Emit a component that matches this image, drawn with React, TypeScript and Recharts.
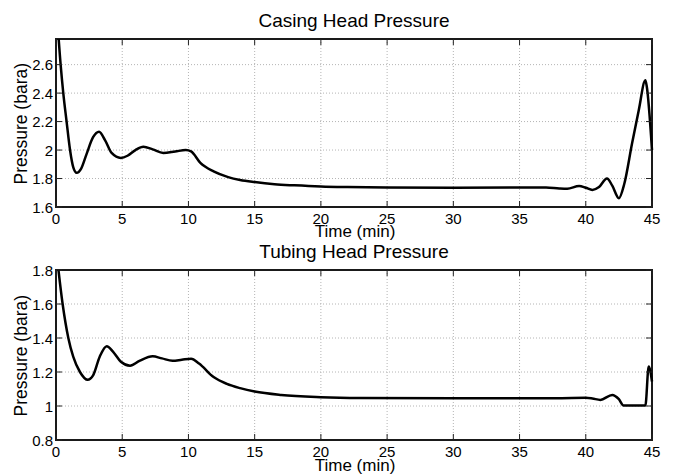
import React from "react";
import {
  LineChart,
  Line,
  XAxis,
  YAxis,
  CartesianGrid,
  ReferenceArea,
} from "recharts";

// Casing head pressure
const casingTime = [
  0, 0.35, 0.55, 0.8, 1.06, 1.3, 1.56, 1.9, 2.3, 2.8, 3.25, 3.7, 4.2, 4.9, 5.4,
  6.0, 6.6, 7.3, 8.1, 9.0, 9.8, 10.2, 10.9, 11.9, 13.0, 13.9, 15, 16.5, 18, 20,
  22, 25, 30, 35, 37, 38, 38.6, 39.5, 40.0, 40.5, 41.0, 41.6, 42.0, 42.5, 42.9,
  43.5, 44.0, 44.5, 44.6, 45,
];
const casingPressure = [
  3.05, 2.6, 2.4, 2.2, 2.0, 1.88, 1.84, 1.87, 1.97, 2.09, 2.128, 2.07, 1.98,
  1.945, 1.96, 2.0, 2.023, 2.005, 1.98, 1.99, 2.0, 1.99, 1.91, 1.85, 1.81, 1.79,
  1.775, 1.76, 1.752, 1.744, 1.74, 1.737, 1.736, 1.737, 1.737, 1.73, 1.728,
  1.747, 1.735, 1.72, 1.74, 1.8, 1.75, 1.662, 1.76, 2.05, 2.28, 2.49, 2.45, 2.0,
];

// Tubing head pressure
const tubingTime = [
  0, 0.5, 0.93, 1.3, 1.81, 2.39, 2.8, 3.3, 3.83, 4.3, 4.9, 5.59, 6.3, 7.3, 8.0,
  8.8, 9.5, 10.2, 10.8, 11.9, 12.9, 13.9, 15, 17, 20, 23, 30, 38, 40, 40.5,
  41.1, 42.0, 42.5, 42.85, 44.5, 44.75, 45,
];
const tubingPressure = [
  1.93, 1.6, 1.4, 1.29, 1.2, 1.154, 1.18, 1.29, 1.352, 1.32, 1.26, 1.237, 1.265,
  1.292, 1.28, 1.266, 1.272, 1.278, 1.25, 1.17, 1.13, 1.105, 1.085, 1.065,
  1.052, 1.047, 1.045, 1.046, 1.048, 1.044, 1.036, 1.065, 1.04, 1.003, 1.003,
  1.233, 1.144,
];

const timeTicks = [0, 5, 10, 15, 20, 25, 30, 35, 40, 45];
const casingTicks = [1.6, 1.8, 2, 2.2, 2.4, 2.6];
const tubingTicks = [0.8, 1, 1.2, 1.4, 1.6, 1.8];

const casingData = casingTime.map((t, i) => ({ t, p: casingPressure[i] }));
const tubingData = tubingTime.map((t, i) => ({ t, p: tubingPressure[i] }));

const FONT = '"Liberation Sans", Arial, Helvetica, sans-serif';
const PLOT_W = 596;

// MATLAB-style inward ticks on both sides of the box
const makeXTick = (plotH: number) => (props: any) => {
  const { x, y, payload } = props;
  return (
    <g>
      <line x1={x} x2={x} y1={y} y2={y - 6} stroke="#222" />
      <line x1={x} x2={x} y1={y - plotH} y2={y - plotH + 6} stroke="#222" />
      <text x={x} y={y + 17} textAnchor="middle" fontSize={15} fontFamily={FONT} fill="#000">
        {payload.value}
      </text>
    </g>
  );
};

const yTick = (props: any) => {
  const { x, y, payload } = props;
  return (
    <g>
      <line x1={x} x2={x + 6} y1={y} y2={y} stroke="#222" />
      <line x1={x + PLOT_W - 6} x2={x + PLOT_W} y1={y} y2={y} stroke="#222" />
      <text x={x - 3} y={y + 5.5} textAnchor="end" fontSize={15} fontFamily={FONT} fill="#000">
        {String(payload.value)}
      </text>
    </g>
  );
};

const textStyle = (left: number, top: number, size: number): React.CSSProperties => ({
  position: "absolute",
  left,
  top,
  width: 300,
  marginLeft: -150,
  textAlign: "center",
  fontFamily: FONT,
  fontSize: size,
  lineHeight: 1,
  color: "#000",
  whiteSpace: "nowrap",
});

const yLabelStyle = (cy: number): React.CSSProperties => ({
  ...textStyle(22.2, cy - 8.75, 17.5),
  transform: "rotate(-90deg)",
});

interface PanelProps {
  data: { t: number; p: number }[];
  top: number;
  height: number;
  margin: { top: number; right: number; bottom: number; left: number };
  yDomain: [number, number];
  yTicks: number[];
}

const X_AXIS_H = 25;

const Panel: React.FC<PanelProps> = ({ data, top, height, margin, yDomain, yTicks }) => {
  const plotH = height - margin.top - margin.bottom - X_AXIS_H;
  return (
    <div style={{ position: "absolute", left: 0, top }}>
      <LineChart width={674} height={height} data={data} margin={margin}>
        <CartesianGrid stroke="#b4b4b4" strokeDasharray="1 2" />
        <XAxis
          dataKey="t"
          type="number"
          domain={[0, 45]}
          ticks={timeTicks}
          height={X_AXIS_H}
          axisLine={false}
          tickLine={false}
          tickSize={0}
          tickMargin={0}
          interval={0}
          tick={makeXTick(plotH)}
        />
        <YAxis
          type="number"
          domain={yDomain}
          ticks={yTicks}
          width={56}
          allowDataOverflow
          axisLine={false}
          tickLine={false}
          tickSize={0}
          tickMargin={0}
          interval={0}
          tick={yTick}
        />
        <Line
          dataKey="p"
          type="monotone"
          stroke="#000"
          strokeWidth={2.5}
          dot={false}
          isAnimationActive={false}
        />
        <ReferenceArea
          x1={0}
          x2={45}
          y1={yDomain[0]}
          y2={yDomain[1]}
          fill="none"
          stroke="#1a1a1a"
          strokeWidth={2}
        />
      </LineChart>
    </div>
  );
};

export default function App() {
  return (
    <div
      style={{
        position: "absolute",
        left: 0,
        top: 0,
        width: 674,
        height: 475,
        background: "#fff",
        overflow: "hidden",
      }}
    >
      <Panel
        data={casingData}
        top={0}
        height={240}
        margin={{ top: 39, right: 22, bottom: 8, left: 0 }}
        yDomain={[1.6, 2.78]}
        yTicks={casingTicks}
      />
      <Panel
        data={tubingData}
        top={240}
        height={235}
        margin={{ top: 30, right: 22, bottom: 10, left: 0 }}
        yDomain={[0.8, 1.8]}
        yTicks={tubingTicks}
      />
      <div style={textStyle(354, 10.6, 19)}>Casing Head Pressure</div>
      <div style={textStyle(355, 223, 17)}>Time (min)</div>
      <div style={yLabelStyle(123.3)}>Pressure (bara)</div>
      <div style={textStyle(354, 242.2, 19)}>Tubing Head Pressure</div>
      <div style={textStyle(355, 457, 17)}>Time (min)</div>
      <div style={yLabelStyle(355.8)}>Pressure (bara)</div>
    </div>
  );
}
